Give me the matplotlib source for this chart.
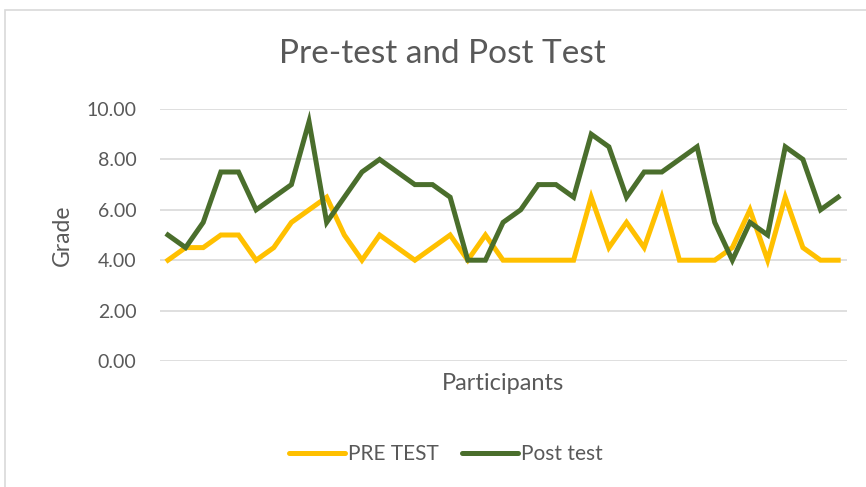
import matplotlib
matplotlib.use("Agg")
import matplotlib.pyplot as plt
from matplotlib.patches import Rectangle

participants = list(range(1, 40))
pre_test = [4.0, 4.5, 4.5, 5.0, 5.0, 4.0, 4.5, 5.5, 6.0, 6.5,
            5.0, 4.0, 5.0, 4.5, 4.0, 4.5, 5.0, 4.0, 5.0, 4.0,
            4.0, 4.0, 4.0, 4.0, 6.5, 4.5, 5.5, 4.5, 6.5, 4.0,
            4.0, 4.0, 4.5, 6.0, 4.0, 6.5, 4.5, 4.0, 4.0]
post_test = [5.0, 4.5, 5.5, 7.5, 7.5, 6.0, 6.5, 7.0, 9.5, 5.5,
             6.5, 7.5, 8.0, 7.5, 7.0, 7.0, 6.5, 4.0, 4.0, 5.5,
             6.0, 7.0, 7.0, 6.5, 9.0, 8.5, 6.5, 7.5, 7.5, 8.0,
             8.5, 5.5, 4.0, 5.5, 5.0, 8.5, 8.0, 6.0, 6.5]
y_ticks = [0, 2, 4, 6, 8, 10]

plt.rcParams['font.family'] = ['Lato', 'DejaVu Sans']
txt = '#595959'
yellow = '#FFC000'
green = '#4A6E2C'

W, H = 866, 487
fig = plt.figure(figsize=(W / 100, H / 100), dpi=100)
fig.patches.append(Rectangle((5 / W, -0.1), 1.2, 1 - 10 / H + 0.1, transform=fig.transFigure,
                             fill=False, edgecolor='#D9D9D9', linewidth=1.2))

ax = fig.add_axes([160 / W, 1 - 361 / H, (847 - 160) / W, (361 - 109) / H])
x = list(range(len(participants)))
ax.plot(x, pre_test, color=yellow, linewidth=3.6, label='PRE TEST', solid_joinstyle='miter', clip_on=False)
ax.plot(x, post_test, color=green, linewidth=3.6, label='Post test', solid_joinstyle='miter', clip_on=False)

ax.set_xlim(-0.45, len(participants) - 0.5)
ax.set_ylim(0, 10)
ax.set_yticks(y_ticks)
ax.set_yticklabels([f'{v:.2f}' for v in y_ticks], fontsize=14, color=txt)
ax.set_xticks([])
ax.tick_params(axis='y', length=0, pad=17)
for s in ax.spines.values():
    s.set_visible(False)
ax.grid(axis='y', color='#D9D9D9', linewidth=1.2)
ax.set_axisbelow(True)

ax.set_ylabel('Grade', fontsize=16.5, color=txt, labelpad=10)
ax.set_xlabel('Participants', fontsize=17, color=txt, labelpad=9)

fig.text(442 / W, 1 - 54 / H, 'Pre-test and Post Test', ha='center', va='center', fontsize=24, color=txt)

leg = fig.legend(loc='center', bbox_to_anchor=(446 / W, 1 - 454 / H), ncol=2, frameon=False,
                 fontsize=15, handlelength=2.7, handletextpad=0.15, columnspacing=1.1)
for t in leg.get_texts():
    t.set_color(txt)
for l in leg.get_lines():
    l.set_linewidth(3.6)
    l.set_solid_capstyle('round')

fig.savefig('out.png', dpi=100)
